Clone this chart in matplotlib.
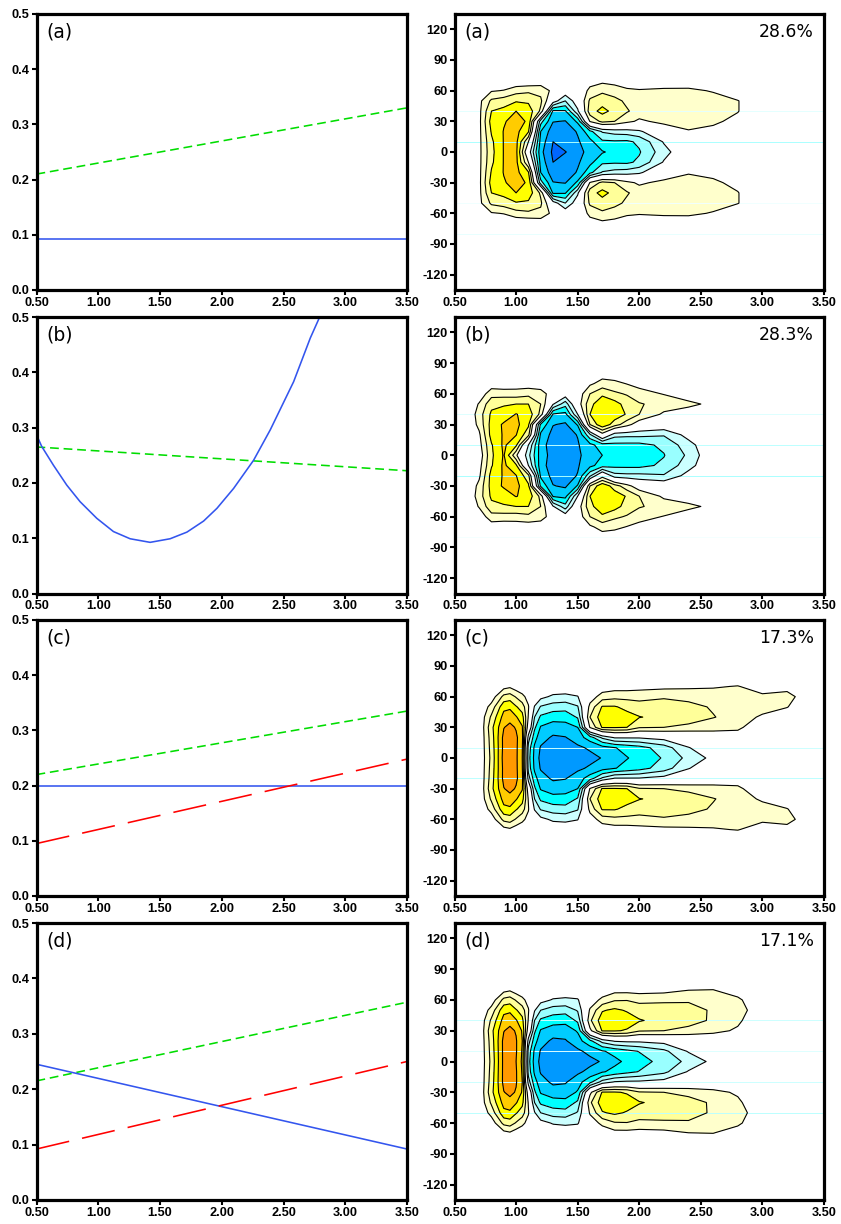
import numpy as np
import matplotlib
matplotlib.use("Agg")
import matplotlib.pyplot as plt

plt.rcParams['axes.unicode_minus'] = False

PANELS = ['(a)', '(b)', '(c)', '(d)']
PERCENT = ['28.6%', '28.3%', '17.3%', '17.1%']

# left column lines
LINE_X = [0.5, 3.5]
GREEN = [[0.21, 0.33], [0.265, 0.222], [0.22, 0.335], [0.215, 0.357]]
RED = [None, None, [0.095, 0.248], [0.092, 0.25]]
BLUE_A = [0.092, 0.092]
BLUE_C = [0.2, 0.2]
BLUE_D = [0.245, 0.092]
BLUE_B_X = [0.5, 0.542, 0.637, 0.745, 0.853, 0.988, 1.123, 1.258, 1.42, 1.582,
            1.718, 1.853, 1.961, 2.096, 2.258, 2.393, 2.582, 2.717, 2.793]
BLUE_B_Y = [0.287, 0.266, 0.232, 0.196, 0.166, 0.136, 0.112, 0.099, 0.0925, 0.099,
            0.111, 0.131, 0.154, 0.19, 0.241, 0.296, 0.383, 0.462, 0.5]

# right column fields, rows are latitude 0,10,..,80 and the south is the mirror
LATS = [0, 10, 20, 30, 40, 50, 60, 70, 80]
X_AB = [0.6, 0.7, 0.8, 0.9, 1.0, 1.1, 1.2, 1.3, 1.4, 1.5, 1.6, 1.7, 1.8, 1.9, 2.0,
        2.2, 2.4, 2.6, 2.8, 3.0, 3.2, 3.4]
X_CD = [0.6, 0.7, 0.8, 0.9, 0.95, 1.0, 1.05, 1.1, 1.15, 1.2, 1.3, 1.4, 1.5, 1.6, 1.7, 1.8, 1.9, 2.0,
        2.2, 2.4, 2.6, 2.8, 3.0, 3.2, 3.4]

FIELD_A = [
    [0, .7, 2.7, 4.05, 4.3, -.3, -4.7, -6.2, -6.05, -5.4, -4.6, -4.1, -3.7, -3.4, -3.1, -1.4, 0, 0, 0, 0, 0, 0],
    [0, .7, 2.8, 4.05, 4.3, 1.0, -4.4, -6.0, -5.4, -5.15, -4.3, -3.2, -3.15, -3.2, -2.8, -.9, 0, 0, 0, 0, 0, 0],
    [0, .7, 3.1, 4.05, 4.3, 3.1, -4.0, -5.6, -5.6, -4.9, -3.3, -1.9, -1.6, -1.5, -1.2, .2, .9, .7, 0, 0, 0, 0],
    [0, .7, 3.4, 3.9, 4.4, 3.85, -2.6, -4.95, -5.05, -3.8, 1.1, 2.3, 2.0, 1.3, .8, 1.3, 1.5, 1.2, .7, 0, 0, 0],
    [0, .7, 3.0, 3.3, 4.0, 3.6, 1.8, -4.2, -4.1, -1.2, 2.6, 3.3, 2.7, 2.1, 1.6, 1.5, 1.6, 1.5, 1.05, 0, 0, 0],
    [0, .7, 2.2, 2.5, 2.9, 2.8, 2.2, -.4, -2.0, -.3, 2.2, 2.6, 2.3, 1.8, 1.5, 1.6, 1.6, 1.5, 1.05, 0, 0, 0],
    [0, .2, .9, 1.05, 1.6, 1.8, 1.7, .7, -.2, 0, 1.3, 1.8, 1.5, 1.2, 1.1, 1.2, 1.25, .9, .2, 0, 0, 0],
    [0, 0, 0, .1, .1, .1, .3, 0, 0, 0, .5, .7, .6, .3, .2, .3, .2, 0, 0, 0, 0, 0],
    [0] * 22,
]
FIELD_B = [
    [0, .3, 2.8, 4.1, 1.2, -1.7, -4.5, -5.4, -5.6, -5.2, -4.5, -4.0, -3.8, -3.6, -3.5, -3.05, -1.8, 0, 0, 0, 0, 0],
    [0, .6, 2.9, 4.2, 3.2, -1.0, -4.6, -5.5, -5.7, -5.1, -4.3, -3.5, -3.3, -3.3, -3.3, -2.8, -1.4, 0, 0, 0, 0, 0],
    [0, .8, 3.4, 4.1, 4.05, 2.3, -4.2, -5.35, -5.4, -4.95, -2.2, .5, -1.6, -1.7, -1.7, -1.9, -.6, 0, 0, 0, 0, 0],
    [0, 1.3, 3.4, 4.15, 4.3, 3.2, -3.2, -4.95, -5.15, -3.9, 2.0, 3.8, 2.5, 1.4, .3, -.1, 0, 0, 0, 0, 0, 0],
    [0, 1.5, 3.2, 3.4, 4.05, 3.6, 1.7, -4.1, -4.3, -1.0, 3.0, 3.9, 3.6, 2.9, 2.0, .8, .3, 0, 0, 0, 0, 0],
    [0, 1.1, 2.7, 2.9, 3.0, 3.0, 2.0, -.9, -2.6, .4, 2.7, 3.7, 3.4, 2.6, 2.1, 1.6, 1.3, .7, 0, 0, 0, 0],
    [0, .3, 1.6, 1.55, 1.5, 1.7, 1.5, .4, -.3, .3, 2.0, 2.8, 2.2, 1.9, 1.35, .95, .3, 0, 0, 0, 0, 0],
    [0, 0, .4, .3, .4, .4, .3, 0, 0, 0, .8, 1.4, 1.3, .95, .7, .3, 0, 0, 0, 0, 0, 0],
    [0, 0, 0, 0, 0, 0, 0, 0, 0, 0, 0, .5, .3, .2, 0, 0, 0, 0, 0, 0, 0, 0],
]
FIELD_C = [
    [0, 0, 2.3, 5.4, 5.7, 5.2, 4.0, -2.6, -4.3, -5.3, -5.6, -5.7, -5.5, -5.3, -4.95, -4.5, -4.05, -3.7, -2.9, -1.7, -.7, 0, 0, 0, 0],
    [0, 0, 2.4, 5.3, 5.7, 5.2, 4.1, -2.4, -4.2, -5.1, -5.5, -5.5, -5.2, -4.85, -4.4, -4.05, -3.7, -3.4, -2.5, -1.05, -.3, 0, 0, 0, 0],
    [0, 0, 2.5, 5.3, 5.6, 5.2, 4.3, -1.5, -3.6, -4.6, -5.15, -5.05, -4.5, -3.5, -1.8, -.9, -.9, -.9, -.6, -.2, .3, .5, 0, 0, 0],
    [0, 0, 2.7, 4.95, 5.3, 4.9, 4.1, .3, -2.8, -4.1, -4.5, -4.4, -4.0, 1.1, 3.1, 3.1, 3.0, 2.1, 2.0, 1.7, 1.4, 1.2, .3, 0, 0],
    [0, .1, 2.2, 4.4, 4.6, 4.1, 3.4, .9, -2.0, -3.2, -3.6, -3.6, -2.9, 2.0, 3.6, 3.7, 3.4, 3.05, 2.7, 2.6, 2.05, 1.6, .8, .3, 0],
    [0, 0, 1.4, 3.7, 3.8, 3.1, 2.5, 1.1, -1.1, -2.1, -2.5, -2.6, -2.1, 1.35, 3.1, 3.1, 2.7, 2.4, 2.4, 2.3, 1.9, 1.6, 1.5, 1.05, 0],
    [0, 0, .4, 2.3, 2.5, 1.9, 1.3, .6, 0, -.7, -1.2, -1.3, -1.05, .4, 1.5, 1.7, 1.7, 1.7, 1.9, 1.7, 1.5, 1.5, 1.2, 1.3, .4],
    [0, 0, 0, .6, .8, .4, .2, 0, 0, 0, -.2, -.2, -.2, 0, .3, .5, .5, .6, .7, .8, .9, 1.05, .5, .7, 0],
    [0, 0, 0, 0, 0, 0, 0, 0, 0, 0, 0, 0, 0, 0, 0, 0, 0, 0, 0, 0, 0, .2, 0, 0, 0],
]
FIELD_D = [
    [0, 0, 2.3, 5.3, 5.6, 5.0, 3.8, -2.6, -4.4, -5.3, -5.6, -5.7, -5.5, -5.3, -4.9, -4.25, -3.8, -3.45, -2.6, -1.75, -.7, 0, 0, 0, 0],
    [0, 0, 2.4, 5.3, 5.6, 5.1, 3.9, -2.4, -4.2, -5.1, -5.5, -5.5, -5.2, -4.7, -4.1, -3.7, -3.3, -2.95, -2.25, -.9, -.2, 0, 0, 0, 0],
    [0, 0, 2.5, 5.3, 5.6, 5.1, 4.0, -1.5, -3.6, -4.6, -5.2, -5.1, -4.4, -3.3, -1.6, -.9, -.8, -.8, -.6, -.2, .1, 0, 0, 0, 0],
    [0, 0, 2.7, 4.95, 5.3, 4.9, 3.9, .3, -2.8, -4.1, -4.5, -4.5, -3.9, .7, 3.1, 3.1, 2.9, 2.1, 2.0, 1.7, 1.3, .85, 0, 0, 0],
    [0, .1, 2.2, 4.4, 4.6, 4.1, 3.3, .9, -2.0, -3.2, -3.6, -3.7, -2.8, 1.8, 3.6, 3.8, 3.5, 3.1, 2.6, 2.4, 1.85, 1.2, .1, 0, 0],
    [0, 0, 1.4, 3.7, 3.8, 3.1, 2.5, 1.1, -.9, -2.0, -2.5, -2.6, -1.9, 1.15, 2.9, 3.2, 2.9, 2.4, 2.4, 2.3, 1.9, 1.45, .3, 0, 0],
    [0, 0, .4, 2.3, 2.5, 1.9, 1.3, .6, 0, -.6, -1.1, -1.2, -1.1, .3, 1.3, 1.9, 1.95, 1.8, 1.85, 1.9, 1.7, 1.2, .1, 0, 0],
    [0, 0, 0, .6, .8, .4, .2, 0, 0, 0, -.2, -.3, -.2, 0, .2, .6, .6, .5, .6, .95, 1.0, .5, 0, 0, 0],
    [0] * 25,
]

LEVELS = [-9, -6, -5, -4, -3, -2, -1, 1, 2, 3, 4, 5, 9]
LINE_LEVELS = [-6, -5, -4, -3, -2, -1, 1, 2, 3, 4, 5]
COLORS = ['#0066FF', '#0099FF', '#00CCFF', '#00FFFF', '#99FFFF', '#CCFFFF', '#FFFFFF',
          '#FFFFCC', '#FFFF99', '#FFFF00', '#FFCC00', '#FF9900']

# pale horizontal streaks in the right column: latitude and colour
STREAKS = [
    [(40, '#E4FFFF'), (10, '#AAFFFF'), (-50, '#F0FFFF'), (-80, '#E8FFFF')],
    [(40, '#DDFFFF'), (10, '#BBFFFF'), (-20, '#AAFFFF'), (-80, '#F4FFFF')],
    [(10, '#CCFFFF'), (-20, '#BBFFFF')],
    [(40, '#CCFFFF'), (10, '#DDFFFF'), (-20, '#CCFFFF'), (-50, '#BBFFFF')],
]

W, H = 841, 1224
TOPS = [14, 317, 620, 923]
BOTTOMS = [290, 593.5, 896, 1200]
BLUE_COLOR = '#3355EE'
GREEN_COLOR = '#00DD00'


def make_axes(fig, left, right, top, bottom):
    ax = fig.add_axes([left / W, 1 - bottom / H, (right - left) / W, (bottom - top) / H])
    for s in ax.spines.values():
        s.set_linewidth(2.3)
    ax.set_xlim(0.5, 3.5)
    ax.set_xticks([0.5, 1.0, 1.5, 2.0, 2.5, 3.0, 3.5])
    ax.set_xticklabels(['%.2f' % v for v in ax.get_xticks()])
    ax.tick_params(length=3.5, width=1.5, pad=1.5)
    return ax


def style_ticks(ax):
    for t in ax.get_xticklabels() + ax.get_yticklabels():
        t.set_family('Liberation Sans')
        t.set_weight('bold')
        t.set_size(9.2)


fig = plt.figure(figsize=(W / 100, H / 100), dpi=100)

blue_lines = [(LINE_X, BLUE_A), (BLUE_B_X, BLUE_B_Y), (LINE_X, BLUE_C), (LINE_X, BLUE_D)]
for i in range(4):
    ax = make_axes(fig, 36.5, 407, TOPS[i], BOTTOMS[i])
    ax.set_ylim(0, 0.5)
    ax.set_yticks([0, 0.1, 0.2, 0.3, 0.4, 0.5])
    ax.set_yticklabels(['%.1f' % v for v in ax.get_yticks()])
    style_ticks(ax)
    ax.plot(LINE_X, GREEN[i], color=GREEN_COLOR, lw=1.15, ls=(0, (5.5, 3)))
    ax.plot(blue_lines[i][0], blue_lines[i][1], color=BLUE_COLOR, lw=1.15)
    if RED[i] is not None:
        ax.plot(LINE_X, RED[i], color='#FF0000', lw=1.15, ls=(0, (21, 8.3)))
    ax.text(10 / 370, 0.935, PANELS[i], transform=ax.transAxes, fontsize=13.5, va='center', ha='left')

fields = [(X_AB, FIELD_A), (X_AB, FIELD_B), (X_CD, FIELD_C), (X_CD, FIELD_D)]
for i in range(4):
    ax = make_axes(fig, 454.5, 824, TOPS[i], BOTTOMS[i])
    ax.set_ylim(-135, 135)
    ax.set_yticks(range(-120, 121, 30))
    ax.set_yticklabels([str(v) for v in range(-120, 121, 30)])
    style_ticks(ax)
    rows = np.array(fields[i][1], dtype=float)
    z = np.vstack([rows[:0:-1], rows])
    lat = np.concatenate([-np.array(LATS[:0:-1]), LATS])
    ax.contourf(fields[i][0], lat, z, levels=LEVELS, colors=COLORS, zorder=1)
    for la, col in STREAKS[i]:
        ax.axhline(la, color=col, lw=0.7, zorder=2)
    ax.contour(fields[i][0], lat, z, levels=LINE_LEVELS, colors='black', linewidths=0.8,
               linestyles='solid', zorder=3)
    ax.text(10 / 370, 0.935, PANELS[i], transform=ax.transAxes, fontsize=13.5, va='center', ha='left')
    ax.text(1 - 10 / 370, 0.935, PERCENT[i], transform=ax.transAxes, fontsize=12.4, va='center', ha='right')

fig.savefig('out.png', dpi=100)
